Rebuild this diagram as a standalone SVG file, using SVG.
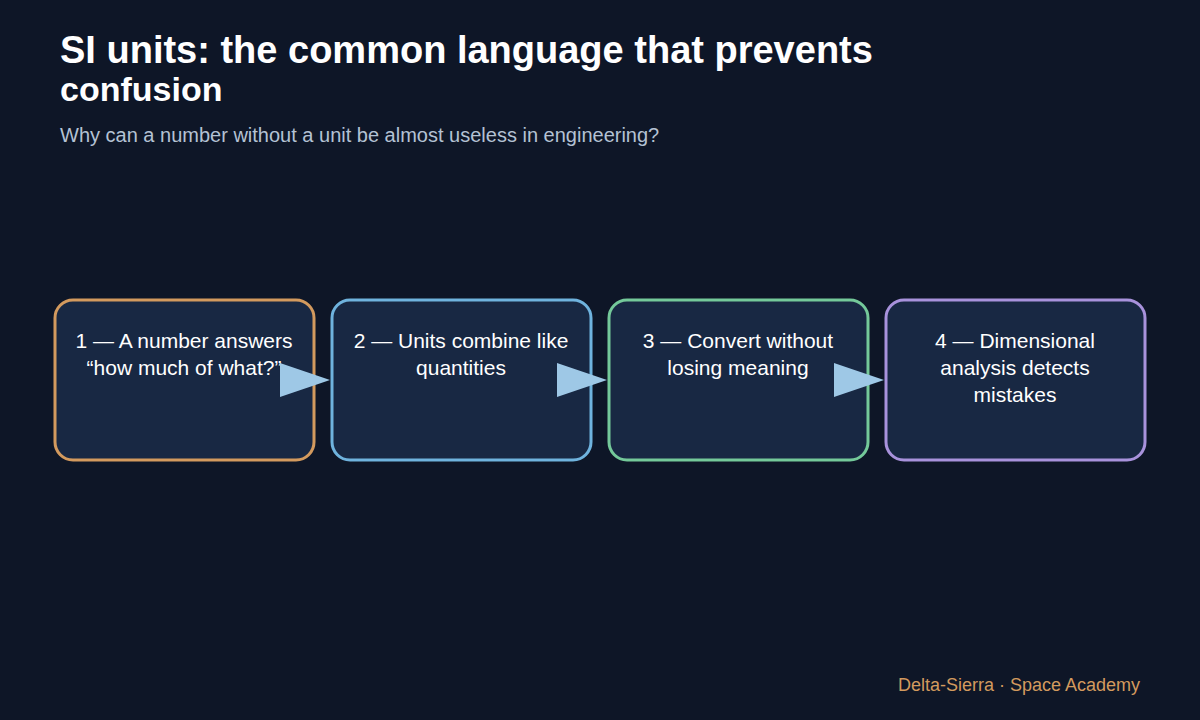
<svg xmlns="http://www.w3.org/2000/svg" width="1200" height="720" viewBox="0 0 1200 720">
<style>
.box{fill:#182843;stroke-width:3}
.t{font-family:"Liberation Sans",Arial,sans-serif;font-size:21px;fill:#ffffff;text-anchor:middle}
.arr{fill:#9ec8e6}
</style>
<rect width="1200" height="720" fill="#0e1627"/>
<text x="60" y="63" font-family="Liberation Sans,Arial,sans-serif" font-size="38" font-weight="bold" fill="#ffffff">SI units: the common language that prevents</text>
<text x="60" y="101" font-family="Liberation Sans,Arial,sans-serif" font-size="34" font-weight="bold" fill="#ffffff">confusion</text>
<text x="60" y="142" font-family="Liberation Sans,Arial,sans-serif" font-size="20" fill="#b4c2d4">Why can a number without a unit be almost useless in engineering?</text>
<g id="n1"><rect class="box" x="55" y="300" width="259" height="160" rx="18" stroke="#d39a5e"/>
<text class="t" x="184" y="348">1 — A number answers</text><text class="t" x="184" y="375">“how much of what?”</text></g>
<g id="n2"><rect class="box" x="332" y="300" width="259" height="160" rx="18" stroke="#6fb3de"/>
<text class="t" x="461" y="348">2 — Units combine like</text><text class="t" x="461" y="375">quantities</text></g>
<g id="n3"><rect class="box" x="609" y="300" width="259" height="160" rx="18" stroke="#74c99a"/>
<text class="t" x="738" y="348">3 — Convert without</text><text class="t" x="738" y="375">losing meaning</text></g>
<g id="n4"><rect class="box" x="886" y="300" width="259" height="160" rx="18" stroke="#a892dc"/>
<text class="t" x="1015" y="348">4 — Dimensional</text><text class="t" x="1015" y="375">analysis detects</text><text class="t" x="1015" y="402">mistakes</text></g>
<g id="connectors">
<polygon class="arr" points="280,363 330,380 280,397"/>
<polygon class="arr" points="557,363 607,380 557,397"/>
<polygon class="arr" points="834,363 884,380 834,397"/>
</g>
<text x="1140" y="691" text-anchor="end" font-family="Liberation Sans,Arial,sans-serif" font-size="18" fill="#d39a5e">Delta-Sierra · Space Academy</text>
</svg>
